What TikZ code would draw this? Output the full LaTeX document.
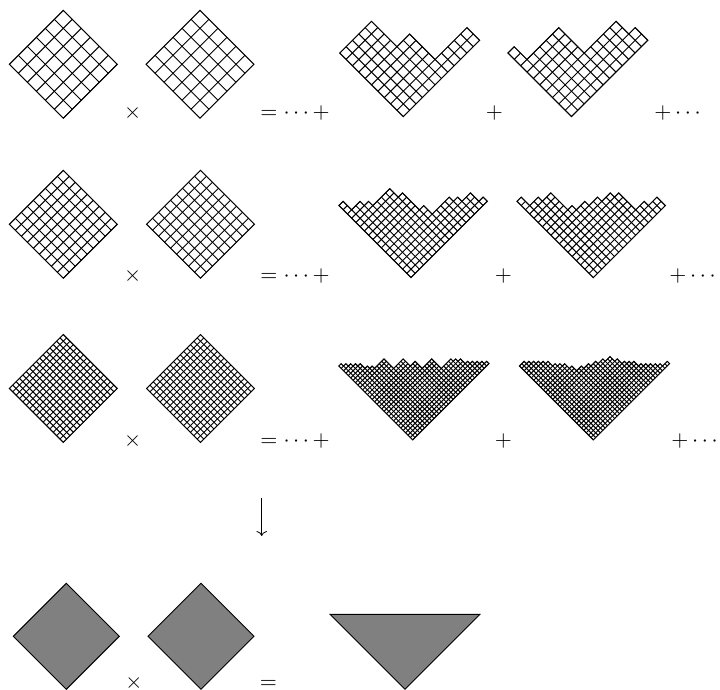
\documentclass[tikz,border=0pt]{standalone}
\usetikzlibrary{arrows.meta}
\tikzset{
  cellline/.style={line width=0.5pt},
  graybox/.style={draw, fill=gray, line width=0.5pt},
  sym/.style={inner sep=0pt, anchor=base},
}
% k x k square, bottom corner at the origin, one cell = 2 units wide
\newcommand{\squarecells}[1]{%
  \begin{scope}
    \clip (0,0) -- (-#1,#1) -- (0,2*#1) -- (#1,#1) -- cycle;
    \foreach \m in {-#1,...,#1}
      \draw[cellline] (2*\m-2*#1,-2*#1) -- (2*\m+2*#1,2*#1)
                      (2*\m+2*#1,-2*#1) -- (2*\m-2*#1,2*#1);
  \end{scope}
  \draw[cellline] (0,0) -- (-#1,#1) -- (0,2*#1) -- (#1,#1) -- cycle;
}
% diagram in the N x N box: #2 = x of its left end, #3 = rim heights from there on
\newcommand{\youngcells}[3]{%
  \begin{scope}
    \clip (0,0) \foreach \yy [count=\ii from 0] in {#3} { -- ({\ii+(#2)},\yy) } -- cycle;
    \foreach \m in {-#1,...,#1}
      \draw[cellline] (2*\m-2*#1,-2*#1) -- (2*\m+2*#1,2*#1)
                      (2*\m+2*#1,-2*#1) -- (2*\m-2*#1,2*#1);
  \end{scope}
  \draw[cellline] (0,0) \foreach \yy [count=\ii from 0] in {#3} { -- ({\ii+(#2)},\yy) } -- cycle;
}
\begin{document}
\begin{tikzpicture}[x=0.5pt,y=0.5pt,font=\fontsize{10.95}{13.6}\selectfont]
\useasboundingbox (0,0) rectangle (720,690);

% 6x6
\begin{scope}[shift={(63.3,571.7)},scale=9] \squarecells{6} \end{scope}
\begin{scope}[shift={(200,571.7)},scale=9] \squarecells{6} \end{scope}
\begin{scope}[shift={(403.3,573.3)},scale=6.364]
  \youngcells{12}{-10}{10,11,12,13,14,15,14,13,12,11,12,13,12,11,10,9,10,11,12,13,14,13,12}
\end{scope}
\begin{scope}[shift={(571.5,573.3)},scale=6.364]
  \youngcells{12}{-10}{10,11,10,9,10,11,12,13,14,13,12,11,10,11,12,13,14,15,14,13,14,13,12}
\end{scope}
\node[sym] (times1) at (132.7,571) {$\times$};
\node[sym, anchor=base west] (eq1) at (260,571) {$=\cdots+$};
\node[sym] (plus1) at (494.3,571) {$+$};
\node[sym, anchor=base west] (more1) at (654,571) {$+\cdots$};

% 9x9
\begin{scope}[shift={(63.3,411.7)},scale=6] \squarecells{9} \end{scope}
\begin{scope}[shift={(200.5,411.7)},scale=6] \squarecells{9} \end{scope}
\begin{scope}[shift={(411,412.3)},scale=4.243]
  \youngcells{18}{-17}{17,18,17,16,17,18,17,18,17,18,19,20,21,20,19,20,19,18,17,16,17,16,15,16,17,18,19,18,19,18,19,20,19,18,19,18}
\end{scope}
\begin{scope}[shift={(593.3,412.3)},scale=4.243]
  \youngcells{18}{-18}{18,19,18,17,18,19,18,19,20,19,18,17,16,17,16,17,18,17,18,19,18,19,20,19,20,19,18,17,16,17,18,17,18,19,18,17}
\end{scope}
\node[sym] (times2) at (132.7,408) {$\times$};
\node[sym, anchor=base west] (eq2) at (260,408) {$=\cdots+$};
\node[sym] (plus2) at (503.3,408) {$+$};
\node[sym, anchor=base west] (more2) at (669,408) {$+\cdots$};

% 16x16
\begin{scope}[shift={(63.3,247.5)},scale=3.375] \squarecells{16} \end{scope}
\begin{scope}[shift={(200.5,247.5)},scale=3.375] \squarecells{16} \end{scope}
\begin{scope}[shift={(412.7,250)},scale=2.386]
  \youngcells{32}{-31}{31,32,31,32,31,32,31,32,31,32,31,30,31,30,31,30,31,32,33,34,33,32,31,30,31,32,33,34,33,32,31,32,33,32,31,30,31,32,33,34,33,32,31,30,31,32,33,34,33,34,33,34,33,32,33,32,33,32,33,32,33,32,33,32}
\end{scope}
\begin{scope}[shift={(593.3,250)},scale=2.386]
  \youngcells{32}{-31}{31,32,33,32,33,32,33,32,33,32,33,32,33,32,31,32,31,32,31,32,31,30,31,30,29,30,31,30,31,32,31,32,33,32,33,34,33,34,35,34,33,34,33,32,33,32,33,32,33,32,31,32,31,32,31,32,31,32,31,32,31,32,33,32}
\end{scope}
\node[sym] (times3) at (132.7,243) {$\times$};
\node[sym, anchor=base west] (eq3) at (260,243) {$=\cdots+$};
\node[sym] (plus3) at (503.3,243) {$+$};
\node[sym, anchor=base west] (more3) at (671,243) {$+\cdots$};

% limit
\coordinate (limtop) at (261.7,192);
\coordinate (limbot) at (261.7,154);
\draw[-{Computer Modern Rightarrow}, line width=0.4pt] (limtop) -- (limbot);

\draw[graybox] (66.3,0.7) -- (13.3,53.7) -- (66.3,106.7) -- (119.3,53.7) -- cycle;
\draw[graybox] (201,0.7) -- (148,53.7) -- (201,106.7) -- (254,53.7) -- cycle;
\draw[graybox] (330,75.7) -- (480,75.7) -- (405,0.7) -- cycle;
\node[sym] (times4) at (134,1.5) {$\times$};
\node[sym] (eq4) at (268.3,1.5) {$=$};
\end{tikzpicture}
\end{document}
